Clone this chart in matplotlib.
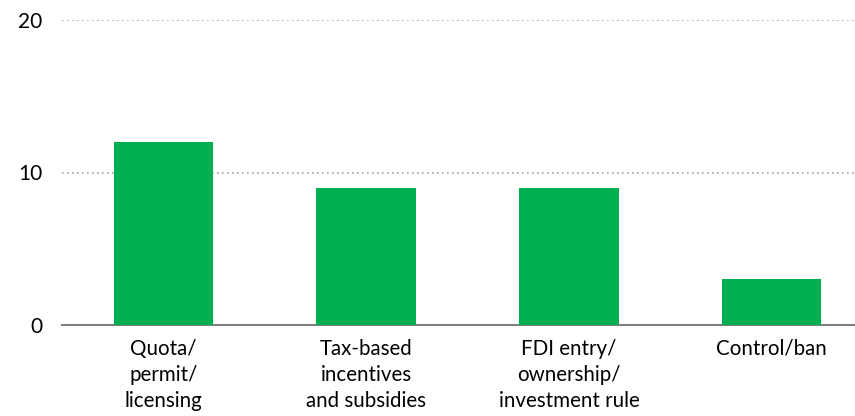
import matplotlib.pyplot as plt

# Data
categories = ['Quota/\npermit/\nlicensing', 'Tax-based\nincentives\nand subsidies',
              'FDI entry/\nownership/\ninvestment rule', 'Control/ban']
counts = [12, 9, 9, 3]

plt.rcParams['font.family'] = ['Lato', 'DejaVu Sans']

fig = plt.figure(figsize=(8.55, 4.16), dpi=100)
ax = fig.add_axes([62 / 855, 91 / 416, 811 / 855, 305 / 416])

ax.bar(range(len(categories)), counts, width=0.49, color='#00b050', zorder=3)

ax.set_xlim(-0.5, 3.5)
ax.set_ylim(0, 20)
ax.set_yticks([0, 10, 20])
ax.set_xticks(range(len(categories)))
ax.set_xticklabels(categories, fontsize=14.8, linespacing=1.38)

ax.yaxis.grid(True, linestyle=(0, (1, 2)), color='#a6a6a6', linewidth=1.2)
for side in ['top', 'right', 'left']:
    ax.spines[side].set_visible(False)
ax.spines['bottom'].set_color('#808080')
ax.spines['bottom'].set_linewidth(1.5)
ax.tick_params(axis='both', length=0, colors='#000000')
ax.tick_params(axis='y', pad=14, labelsize=15)
ax.tick_params(axis='x', pad=10)

plt.savefig('out.png', dpi=100)
